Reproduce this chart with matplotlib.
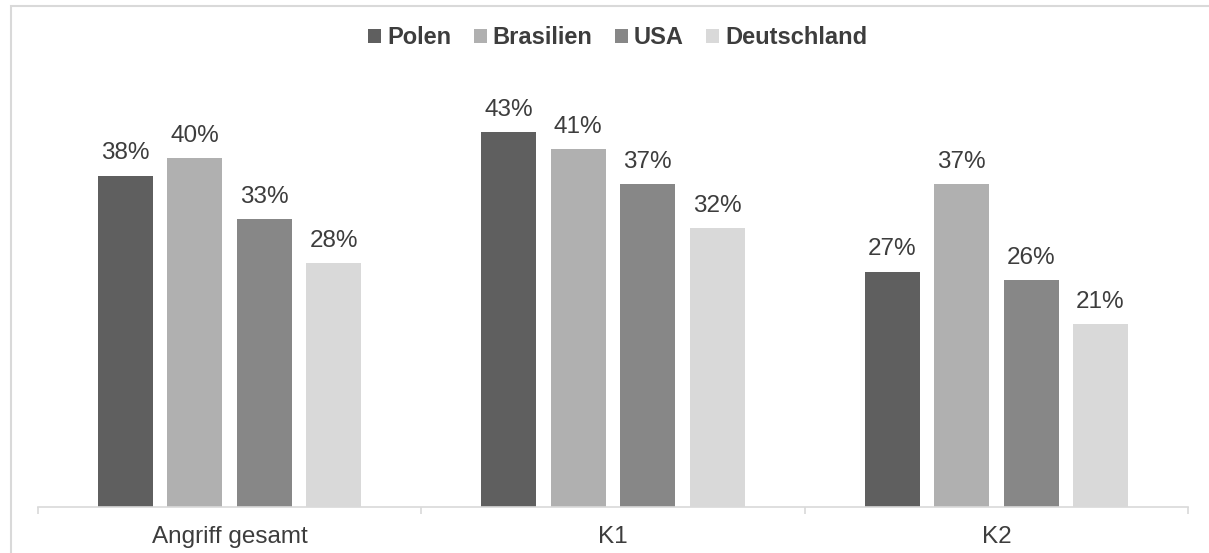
import matplotlib.pyplot as plt
import numpy as np
from matplotlib.patches import Rectangle

plt.rcParams['font.family'] = ['Liberation Sans', 'DejaVu Sans']

# Anteil je Land und Kategorie (in Prozent)
categories = ['Angriff gesamt', 'K1', 'K2']
countries = ['Polen', 'Brasilien', 'USA', 'Deutschland']
polen = [38, 43, 27]
brasilien = [40, 41, 37]
usa = [33, 37, 26]
deutschland = [28, 32, 21]

colors = ['#5f5f5f', '#b0b0b0', '#878787', '#d9d9d9']
text_color = '#3d3d3d'
line_color = '#d9d9d9'


def make_graph():
    fig = plt.figure(figsize=(12.09, 5.53), dpi=100)
    ax = fig.add_axes([38 / 1209, 46 / 553, 1150 / 1209, 418.6 / 553])

    series = [polen, brasilien, usa, deutschland]
    x = np.arange(len(categories))
    pitch = 0.181
    width = 0.1434
    for i, (name, values) in enumerate(zip(countries, series)):
        pos = x + (i - 1.5) * pitch
        bars = ax.bar(pos, values, width, color=colors[i], label=name)
        for b, v in zip(bars, values):
            ax.annotate(f'{v}%', (b.get_x() + b.get_width() / 2, v),
                        xytext=(0, 8), textcoords='offset points',
                        ha='center', va='bottom', fontsize=17.5, color=text_color)

    ax.set_xlim(-0.5, 2.5)
    ax.set_ylim(0, 48)
    ax.set_yticks([])
    for side in ['top', 'right', 'left']:
        ax.spines[side].set_visible(False)
    ax.spines['bottom'].set_color(line_color)
    ax.spines['bottom'].set_linewidth(1.2)

    # Trennstriche zwischen den Gruppen, Beschriftung in der Mitte
    ax.set_xticks([-0.5, 0.5, 1.5, 2.5])
    ax.set_xticklabels([])
    ax.tick_params(axis='x', which='major', length=5, width=1.2, color=line_color)
    ax.set_xticks(x, minor=True)
    ax.set_xticklabels(categories, minor=True, fontsize=17.5, color=text_color)
    ax.tick_params(axis='x', which='minor', length=0, pad=14)

    handles, labels = ax.get_legend_handles_labels()
    fig.legend(handles, labels, loc='center', bbox_to_anchor=(0.511, 1 - 38 / 553),
               ncol=4, frameon=False, handlelength=0.55, handleheight=0.55,
               handletextpad=0.25, columnspacing=0.95,
               prop={'size': 17, 'weight': 'bold'}, labelcolor=text_color)

    # Rahmen um das Diagramm
    fig.patches.append(Rectangle((11 / 1209, -0.1), 1.2, 1.1 - 6 / 553,
                                 transform=fig.transFigure, fill=False,
                                 edgecolor=line_color, linewidth=1.5))

    fig.savefig('out.png', dpi=100)


if __name__ == '__main__':
    make_graph()
